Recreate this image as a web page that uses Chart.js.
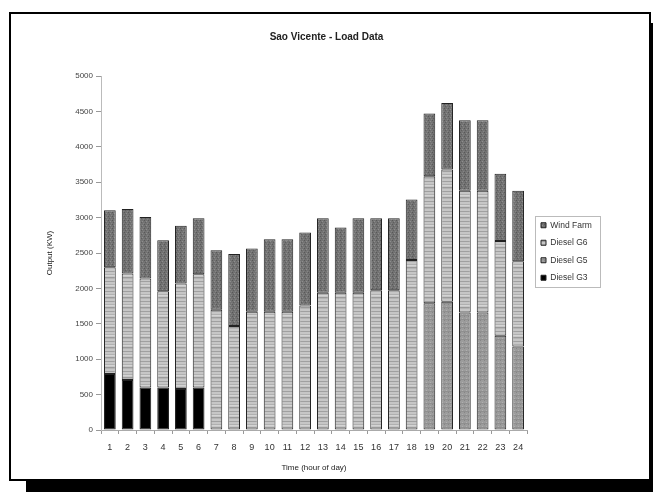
<!DOCTYPE html>
<html><head><meta charset="utf-8">
<script src="https://cdn.jsdelivr.net/npm/chart.js@4.4.0/dist/chart.umd.min.js"></script>
<style>
html,body{margin:0;padding:0;background:#fff;width:653px;height:492px;overflow:hidden}
#frame{position:absolute;left:9px;top:12px;width:638px;height:465px;border:2px solid #000;box-shadow:17px 11px 0 #000;background:#fff}
#wrap{position:absolute;left:0;top:0;width:653px;height:492px}
</style></head>
<body>
<div id="frame"></div>
<div id="wrap"><canvas id="c" width="653" height="492"></canvas></div>
<script>
const hours = ['1','2','3','4','5','6','7','8','9','10','11','12','13','14','15','16','17','18','19','20','21','22','23','24'];
const dieselG3 = [790,705,600,600,580,600,0,0,0,0,0,0,0,0,0,0,0,0,0,0,0,0,0,0];
const dieselG5 = [0,0,0,0,0,0,0,0,0,0,0,0,0,0,0,0,0,0,1790,1810,1660,1660,1330,1180];
const dieselG6 = [1510,1505,1540,1360,1490,1600,1700,1470,1670,1670,1670,1760,1940,1940,1940,1975,1975,2400,1795,1870,1720,1720,1340,1205];
const windFarm = [805,910,870,720,815,790,840,1015,895,1025,1025,1030,1050,920,1050,1015,1015,855,885,940,995,995,950,995];
const yTicks = [0,500,1000,1500,2000,2500,3000,3500,4000,4500,5000];

function makePattern(w, h, base, draw) {
  const c = document.createElement('canvas');
  c.width = w; c.height = h;
  const x = c.getContext('2d');
  x.fillStyle = base; x.fillRect(0, 0, w, h);
  draw(x);
  return document.getElementById('c').getContext('2d').createPattern(c, 'repeat');
}
function px(x, col, a, b, w, h) { x.fillStyle = col; x.fillRect(a, b, w || 1, h || 1); }

const g6Pattern = makePattern(6, 10, '#c6c6c6', x => {
  px(x, '#a0a0a0', 0, 1, 6, 1);
  px(x, '#b0b0b0', 0, 4, 6, 1);
  px(x, '#9a9a9a', 0, 7, 6, 1);
  px(x, '#b4b4b4', 0, 8, 6, 1);
  px(x, '#d4d4d4', 0, 5, 6, 1);
});
const windPattern = makePattern(4, 4, '#727272', x => {
  px(x, '#585858', 0, 0); px(x, '#8e8e8e', 2, 1);
  px(x, '#5e5e5e', 1, 2); px(x, '#848484', 3, 3);
});
const g5Pattern = makePattern(4, 4, '#9c9c9c', x => {
  px(x, '#868686', 0, 0); px(x, '#b0b0b0', 2, 2);
  px(x, '#8f8f8f', 0, 3, 4, 1);
});

const font = 'Liberation Sans, Arial, sans-serif';
const defaultLabels = Chart.defaults.plugins.legend.labels.generateLabels;

const legendPlace = {
  id: 'legendPlace',
  beforeInit(chart) {
    const lg = chart.legend;
    const orig = lg.fit;
    lg.fit = function () { orig.call(this); this.width = 126; };
  },
  afterLayout(chart) {
    const lg = chart.legend;
    lg.left = 532; lg.right = 532 + 120;
    lg.top = 212; lg.bottom = 212 + 120;
  },
  afterDraw(chart) {
    const lg = chart.legend;
    const hb = lg.legendHitBoxes;
    if (!hb || !hb.length) return;
    let r = 0, b = 0, l = 1e9, t = 1e9;
    hb.forEach(h => { l = Math.min(l, h.left); t = Math.min(t, h.top); r = Math.max(r, h.left + h.width); b = Math.max(b, h.top + h.height); });
    const ctx = chart.ctx;
    ctx.save();
    ctx.strokeStyle = '#bbbbbb';
    ctx.lineWidth = 1;
    ctx.strokeRect(Math.round(l - 6) + 0.5, Math.round(t - 5) + 0.5, Math.round(r - l + 14), Math.round(b - t + 10));
    ctx.restore();
  }
};

new Chart(document.getElementById('c'), {
  type: 'bar',
  data: {
    labels: hours,
    datasets: [
      { label: 'Diesel G3', data: dieselG3, backgroundColor: '#000000' },
      { label: 'Diesel G5', data: dieselG5, backgroundColor: g5Pattern },
      { label: 'Diesel G6', data: dieselG6, backgroundColor: g6Pattern },
      { label: 'Wind Farm', data: windFarm, backgroundColor: windPattern }
    ].map(d => Object.assign(d, {
      borderColor: '#222',
      borderWidth: c => (c.type === 'data' && c.raw === 0 ? 0 : 1),
      borderSkipped: false, barPercentage: 0.66, categoryPercentage: 1
    }))
  },
  options: {
    responsive: false,
    animation: false,
    devicePixelRatio: 1,
    layout: { padding: { left: 0, right: 0, top: 0, bottom: 0 } },
    plugins: {
      title: { display: true, text: 'Sao Vicente - Load Data', color: '#222', font: { family: font, size: 10, weight: 'bold' }, padding: { top: 31, bottom: 33 } },
      legend: {
        position: 'right', reverse: true, align: 'start',
        labels: {
          boxWidth: 5, boxHeight: 5, padding: 9, color: '#333', font: { family: font, size: 8.5 },
          generateLabels(chart) {
            return defaultLabels(chart).map(it => Object.assign(it, { lineWidth: 1, strokeStyle: '#222' }));
          }
        }
      },
      tooltip: { enabled: false }
    },
    scales: {
      x: {
        stacked: true, offset: true,
        grid: { display: true, drawOnChartArea: false, offset: true, tickLength: 4, color: '#999' },
        border: { color: '#aaa' },
        ticks: { color: '#333', font: { family: font, size: 9 }, padding: 8, maxRotation: 0, autoSkip: false },
        title: { display: true, text: 'Time (hour of day)', color: '#222', font: { family: font, size: 8 }, padding: { top: 4, bottom: 19 } },
        afterFit(s) { s.height = 62; }
      },
      y: {
        stacked: true, min: 0, max: 5000,
        afterBuildTicks(s) { s.ticks = yTicks.map(v => ({ value: v })); },
        grid: { display: true, drawOnChartArea: false, tickLength: 5, color: '#999' },
        border: { color: '#bbb' },
        ticks: { color: '#444', font: { family: font, size: 8 }, padding: 3, callback: v => String(v) },
        title: { display: true, text: 'Output (KW)', color: '#222', font: { family: font, size: 8 }, padding: { top: 45 } },
        afterFit(s) { s.width = 101; }
      }
    }
  },
  plugins: [legendPlace]
});
</script>
</body></html>
